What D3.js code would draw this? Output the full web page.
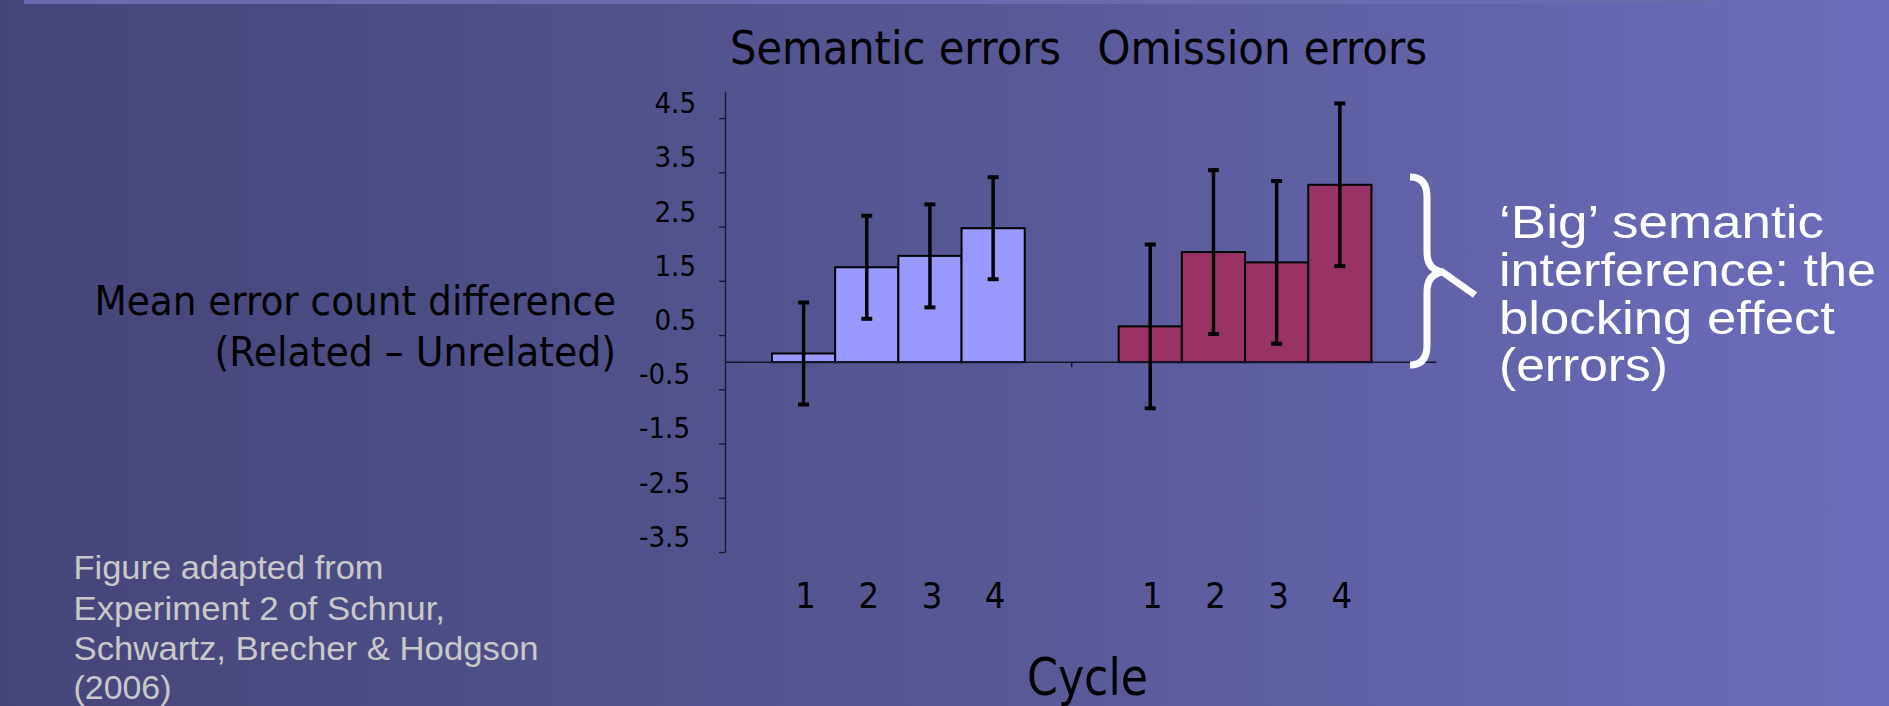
<!DOCTYPE html>
<html>
<head>
<meta charset="utf-8">
<script src="https://cdn.jsdelivr.net/npm/d3@7"></script>
<style>
  html, body { margin: 0; padding: 0; overflow: hidden; }
  svg { display: block; }
  .chart text { font-family: "DejaVu Sans Condensed", "DejaVu Sans", sans-serif; fill: #000; }
  .slide text { font-family: "Liberation Sans", Arial, sans-serif; }
</style>
</head>
<body>
<div id="chart"></div>
<script>
// values (Schnur et al. 2006, Exp. 2)
var groups = ["Semantic errors", "Omission errors"];
var cycles = ["1", "2", "3", "4"];
var semanticMeans = [0.16, 1.75, 1.96, 2.47];
var semanticErr = [0.94, 0.95, 0.95, 0.94];
var omissionMeans = [0.66, 2.03, 1.84, 3.27];
var omissionErr = [1.51, 1.51, 1.50, 1.50];
var yTicks = [4.5, 3.5, 2.5, 1.5, 0.5, -0.5, -1.5, -2.5, -3.5];
var groupColors = ["#9999FF", "#993366"];

var yLabelLines = ["Mean error count difference", "(Related \u2013 Unrelated)"];
var noteLines = ["\u2018Big\u2019 semantic", "interference: the", "blocking effect", "(errors)"];
var sourceLines = ["Figure adapted from", "Experiment 2 of Schnur,", "Schwartz, Brecher & Hodgson", "(2006)"];

var W = 1889, H = 706;

var svg = d3.select("#chart").append("svg")
    .attr("width", W)
    .attr("height", H);

// slide background
var defs = svg.append("defs");
var grad = defs.append("linearGradient")
    .attr("id", "bg")
    .attr("x1", "0%").attr("x2", "100%")
    .attr("y1", "0%").attr("y2", "0%");
grad.append("stop").attr("offset", "0%").attr("stop-color", "#45457A");
grad.append("stop").attr("offset", "50%").attr("stop-color", "#575795");
grad.append("stop").attr("offset", "100%").attr("stop-color", "#6C6CBC");

svg.append("rect").attr("width", W).attr("height", H).attr("fill", "url(#bg)");
svg.append("rect")
    .attr("x", 24).attr("y", 0)
    .attr("width", 1693).attr("height", 4)
    .attr("fill", "#6A6AAE");

// scales
var y = d3.scaleLinear().domain([-3.5, 5]).range([552, 91]);
var xGroup = d3.scaleBand().domain(groups).range([725, 1418.4]);
var xCycle = d3.scaleBand().domain(cycles)
    .range([0, xGroup.bandwidth()])
    .paddingInner(0)
    .paddingOuter(0.743);

var series = groups.map(function(g, i) {
    var means = i === 0 ? semanticMeans : omissionMeans;
    var errs = i === 0 ? semanticErr : omissionErr;
    return cycles.map(function(c, j) {
        return { group: g, cycle: c, value: means[j], err: errs[j], color: groupColors[i] };
    });
});
var bars = d3.merge(series);

var chart = svg.append("g").attr("class", "chart");

// y axis (plain hyphen for negatives, like the original)
var fmt = d3.format(".1f");
var yAxis = chart.append("g")
    .attr("transform", "translate(725,0)")
    .call(d3.axisLeft(y)
        .tickValues(yTicks)
        .tickSize(6)
        .tickSizeOuter(0)
        .tickFormat(function(v) { return fmt(v).replace("\u2212", "-"); }));
yAxis.select(".domain").attr("stroke", "#15152a").attr("stroke-width", 1.3);
yAxis.selectAll(".tick line").attr("stroke", "#15152a").attr("stroke-width", 1.3);
yAxis.selectAll(".tick text")
    .attr("x", function(v) { return v < 0 ? -35 : -29; })
    .attr("y", -16)
    .attr("dy", "0.36em")
    .style("font-size", "29px")
    .style("font-family", "'DejaVu Sans Condensed', 'DejaVu Sans', sans-serif")
    .attr("fill", "#000");

// bars
chart.selectAll("rect.bar")
    .data(bars)
    .enter().append("rect")
    .attr("class", "bar")
    .attr("x", function(d) { return xGroup(d.group) + xCycle(d.cycle); })
    .attr("width", xCycle.bandwidth())
    .attr("y", function(d) { return y(Math.max(0, d.value)); })
    .attr("height", function(d) { return Math.abs(y(d.value) - y(0)); })
    .attr("fill", function(d) { return d.color; })
    .attr("stroke", "#000")
    .attr("stroke-width", 2);

// x baseline + group separator tick
var x0 = xGroup.range()[0], x1 = xGroup.range()[1];
chart.append("line")
    .attr("x1", x0).attr("x2", x1 + 18)
    .attr("y1", y(0)).attr("y2", y(0))
    .attr("stroke", "#15152a").attr("stroke-width", 1.5);
chart.append("line")
    .attr("x1", xGroup(groups[1])).attr("x2", xGroup(groups[1]))
    .attr("y1", y(0)).attr("y2", y(0) + 5)
    .attr("stroke", "#15152a").attr("stroke-width", 1.5);

// error bars
function cx(d) { return xGroup(d.group) + xCycle(d.cycle) + xCycle.bandwidth() / 2; }
var eb = chart.selectAll("g.err")
    .data(bars)
    .enter().append("g")
    .attr("class", "err");
eb.append("line")
    .attr("x1", cx).attr("x2", cx)
    .attr("y1", function(d) { return y(d.value + d.err); })
    .attr("y2", function(d) { return y(d.value - d.err); })
    .attr("stroke", "#000").attr("stroke-width", 3.5);
[1, -1].forEach(function(s) {
    eb.append("line")
        .attr("x1", function(d) { return cx(d) - 5.5; })
        .attr("x2", function(d) { return cx(d) + 5.5; })
        .attr("y1", function(d) { return y(d.value + s * d.err); })
        .attr("y2", function(d) { return y(d.value + s * d.err); })
        .attr("stroke", "#000").attr("stroke-width", 4);
});

// x tick labels
chart.selectAll("text.xtick")
    .data(bars)
    .enter().append("text")
    .attr("class", "xtick")
    .attr("x", function(d) { return cx(d) + 2; })
    .attr("y", 607.5)
    .attr("text-anchor", "middle")
    .style("font-size", "36px")
    .text(function(d) { return d.cycle; });

// group titles
var titleX = [730, 1097.5], titleW = [331, 329.5];
chart.selectAll("text.gtitle")
    .data(groups)
    .enter().append("text")
    .attr("class", "gtitle")
    .attr("x", function(d, i) { return titleX[i]; })
    .attr("y", 64)
    .attr("textLength", function(d, i) { return titleW[i]; })
    .attr("lengthAdjust", "spacingAndGlyphs")
    .style("font-size", "47px")
    .text(function(d) { return d; });

// axis titles
chart.append("text")
    .attr("x", 1027).attr("y", 695)
    .attr("textLength", 121)
    .attr("lengthAdjust", "spacingAndGlyphs")
    .style("font-size", "52px")
    .text("Cycle");

var yLabW = [521.6, 401.5], yLabY = [315, 366];
chart.selectAll("text.ylab")
    .data(yLabelLines)
    .enter().append("text")
    .attr("class", "ylab")
    .attr("x", 616)
    .attr("y", function(d, i) { return yLabY[i]; })
    .attr("text-anchor", "end")
    .attr("textLength", function(d, i) { return yLabW[i]; })
    .attr("lengthAdjust", "spacingAndGlyphs")
    .style("font-size", "40px")
    .text(function(d) { return d; });

// slide annotations
var slide = svg.append("g").attr("class", "slide");

slide.append("path")
    .attr("d", "M1410,177 Q1427,177 1427,197 L1427,252 Q1427,270 1443,272 " +
               "M1443,272 Q1427,274 1427,292 L1427,345 Q1427,365 1410,365 " +
               "M1441,271 L1475,295")
    .attr("fill", "none")
    .attr("stroke", "#fff")
    .attr("stroke-width", 7);

var noteY = [238, 286, 334, 381], noteW = [325, 377, 336, 169];
slide.selectAll("text.note")
    .data(noteLines)
    .enter().append("text")
    .attr("class", "note")
    .attr("x", 1499)
    .attr("y", function(d, i) { return noteY[i]; })
    .attr("textLength", function(d, i) { return noteW[i]; })
    .attr("lengthAdjust", "spacingAndGlyphs")
    .attr("fill", "#fff")
    .style("font-size", "46px")
    .text(function(d) { return d; });

var srcY = [579, 619.5, 659.5, 698.5], srcW = [310, 371.5, 465, 98];
slide.selectAll("text.src")
    .data(sourceLines)
    .enter().append("text")
    .attr("class", "src")
    .attr("x", 73.5)
    .attr("y", function(d, i) { return srcY[i]; })
    .attr("textLength", function(d, i) { return srcW[i]; })
    .attr("lengthAdjust", "spacingAndGlyphs")
    .attr("fill", "#C9C9C9")
    .style("font-size", "34px")
    .text(function(d) { return d; });
</script>
</body>
</html>
